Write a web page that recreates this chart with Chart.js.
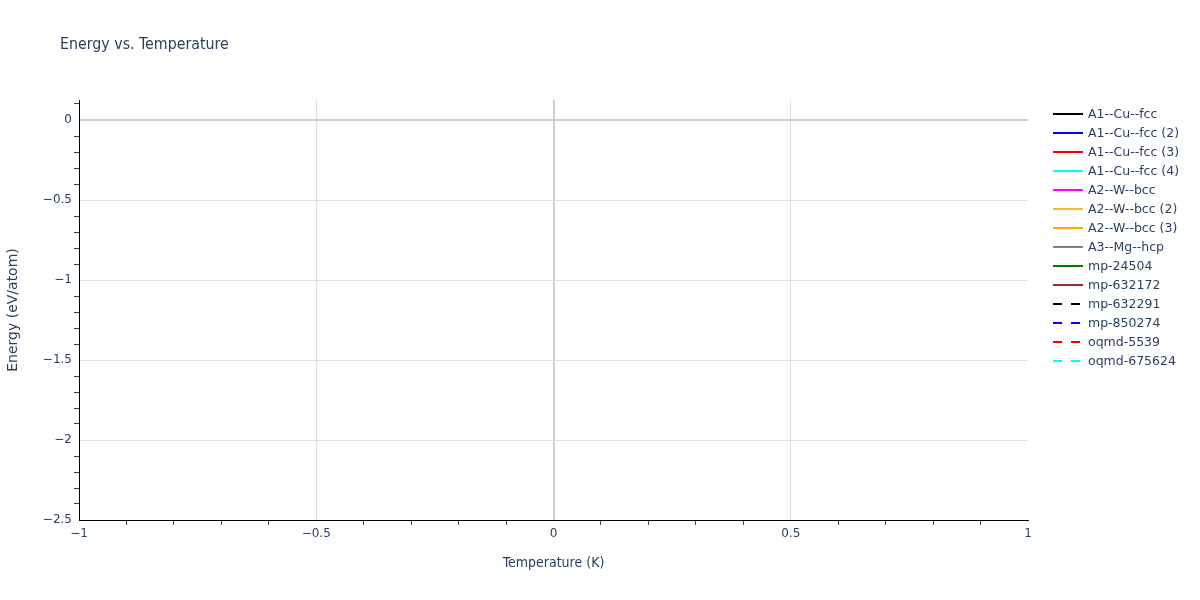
<!DOCTYPE html>
<html>
<head>
<meta charset="utf-8">
<script src="https://cdn.jsdelivr.net/npm/chart.js@4"></script>
<style>
  html, body { margin: 0; padding: 0; background: #fff; }
  #wrap { width: 1200px; height: 600px; position: relative; }
</style>
</head>
<body>
<div id="wrap"><canvas id="energyChart" width="1200" height="600"></canvas></div>
<script>
// series names (legend) -- no points are plotted in the reference
const seriesNames = ['A1--Cu--fcc', 'A1--Cu--fcc (2)', 'A1--Cu--fcc (3)', 'A1--Cu--fcc (4)',
  'A2--W--bcc', 'A2--W--bcc (2)', 'A2--W--bcc (3)', 'A3--Mg--hcp',
  'mp-24504', 'mp-632172', 'mp-632291', 'mp-850274', 'oqmd-5539', 'oqmd-675624'];
const seriesTemps = [[], [], [], [], [], [], [], [], [], [], [], [], [], []];
const seriesEnergies = [[], [], [], [], [], [], [], [], [], [], [], [], [], []];

// tick labels
const xTickLabels = [-1, -0.5, 0, 0.5, 1];
const yTickLabels = [-2.5, -2, -1.5, -1, -0.5, 0];

// styles
const seriesColors = ['#000000', '#0000ff', '#ff0000', '#00ffff', '#ff00ff', '#f0c030', '#ffa500',
  '#808080', '#008000', '#a52a2a', '#000000', '#0000ff', '#ff0000', '#00ffff'];
const seriesDashed = [false, false, false, false, false, false, false, false, false, false, true, true, true, true];

const textColor = '#2a3f5f';
const fontFam = '"DejaVu Sans", Verdana, sans-serif';
const fontCond = '"DejaVu Sans Condensed", "DejaVu Sans", sans-serif';

function fmt(v) {
    return String(v).replace('-', '\u2212');
}
function isMajor(v, list) {
    return list.some(t => Math.abs(t - v) < 1e-9);
}
// minor ticks every 0.1 like the original axes
function minorTicks(scale, lo, hi) {
    const ticks = [];
    for (let i = Math.round(lo * 10); i <= Math.round(hi * 10); i++) {
        ticks.push({ value: i / 10 });
    }
    scale.ticks = ticks;
}

const titleAndLegend = {
    id: 'titleAndLegend',
    afterDraw(chart) {
        const ctx = chart.ctx;
        ctx.save();
        ctx.fillStyle = textColor;
        ctx.font = '15.8px ' + fontCond;
        ctx.textBaseline = 'middle';
        ctx.textAlign = 'left';
        ctx.fillText('Energy vs. Temperature', 60, 45);

        ctx.font = '12.5px ' + fontFam;
        for (let i = 0; i < seriesNames.length; i++) {
            const y = 114 + i * 19;
            ctx.strokeStyle = seriesColors[i];
            ctx.lineWidth = 2;
            ctx.setLineDash(seriesDashed[i] ? [9, 9] : []);
            ctx.beginPath();
            ctx.moveTo(1053, y);
            ctx.lineTo(1083, y);
            ctx.stroke();
            ctx.setLineDash([]);
            ctx.fillStyle = textColor;
            ctx.fillText(seriesNames[i], 1088, y + 1);
        }
        ctx.restore();
    }
};

const datasets = seriesNames.map((name, i) => ({
    label: name,
    data: seriesTemps[i].map((t, j) => ({ x: t, y: seriesEnergies[i][j] })),
    borderColor: seriesColors[i],
    backgroundColor: seriesColors[i],
    borderWidth: 2,
    borderDash: seriesDashed[i] ? [9, 9] : [],
    pointRadius: 0,
    fill: false
}));

const ctx = document.getElementById('energyChart').getContext('2d');
const energyChart = new Chart(ctx, {
    type: 'line',
    data: { datasets: datasets },
    options: {
        responsive: false,
        animation: false,
        layout: { padding: { top: 100, right: 172, bottom: 0, left: 0 } },
        plugins: { legend: { display: false }, title: { display: false }, tooltip: { enabled: false } },
        scales: {
            x: {
                type: 'linear',
                min: -1,
                max: 1,
                afterBuildTicks: s => minorTicks(s, -1, 1),
                afterFit: s => { s.height = 80; },
                border: { display: true, color: '#000', width: 1 },
                grid: {
                    drawTicks: true,
                    tickLength: 5,
                    tickWidth: 1,
                    tickColor: c => isMajor(c.tick.value, xTickLabels) ? 'rgba(0,0,0,0)' : '#444',
                    color: c => {
                        const v = c.tick.value;
                        if (!isMajor(v, xTickLabels) || Math.abs(v) === 1) return 'rgba(0,0,0,0)';
                        return Math.abs(v) < 1e-9 ? '#d0d0d0' : '#e0e0e0';
                    },
                    lineWidth: c => Math.abs(c.tick.value) < 1e-9 ? 2 : 1
                },
                ticks: {
                    autoSkip: false,
                    maxRotation: 0,
                    padding: 2,
                    color: textColor,
                    font: { family: fontFam, size: 12 },
                    callback: v => isMajor(v, xTickLabels) ? fmt(Math.round(v * 10) / 10) : ''
                },
                title: {
                    display: true,
                    text: 'Temperature (K)',
                    color: textColor,
                    font: { family: fontCond, size: 14 },
                    padding: { top: 0, bottom: 28 }
                }
            },
            y: {
                type: 'linear',
                min: -2.5,
                max: 0.125,
                afterBuildTicks: s => minorTicks(s, -2.5, 0.1),
                afterFit: s => { s.width = 79; },
                border: { display: true, color: '#000', width: 1 },
                grid: {
                    drawTicks: true,
                    tickLength: 5,
                    tickWidth: 1,
                    tickColor: c => isMajor(c.tick.value, yTickLabels) ? 'rgba(0,0,0,0)' : '#444',
                    color: c => {
                        const v = c.tick.value;
                        if (!isMajor(v, yTickLabels) || Math.abs(v + 2.5) < 1e-9) return 'rgba(0,0,0,0)';
                        return Math.abs(v) < 1e-9 ? '#d0d0d0' : '#e0e0e0';
                    },
                    lineWidth: c => Math.abs(c.tick.value) < 1e-9 ? 2 : 1
                },
                ticks: {
                    autoSkip: false,
                    padding: 2,
                    color: textColor,
                    font: { family: fontFam, size: 12 },
                    callback: v => isMajor(v, yTickLabels) ? fmt(Math.round(v * 10) / 10) : ''
                },
                title: {
                    display: true,
                    text: 'Energy (eV/atom)',
                    color: textColor,
                    font: { family: fontFam, size: 14 },
                    padding: { top: 5, bottom: 0 }
                }
            }
        }
    },
    plugins: [titleAndLegend]
});
</script>
</body>
</html>
